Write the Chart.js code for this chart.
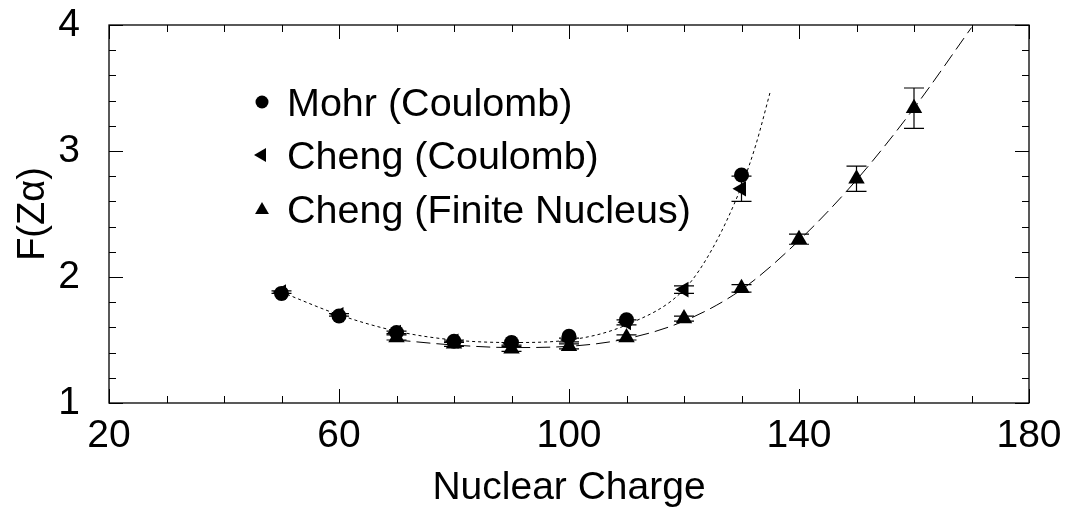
<!DOCTYPE html>
<html>
<head>
<meta charset="utf-8">
<script src="https://cdn.jsdelivr.net/npm/chart.js@4.4.1/dist/chart.umd.min.js"></script>
<style>
  body { margin: 0; background: #fff; }
  #wrap { width: 1068px; height: 512px; }
</style>
</head>
<body>
<div id="wrap"><canvas id="chart" width="1068" height="512"></canvas></div>
<script>
// values
const mohrZ = [50, 60, 70, 80, 90, 100, 110, 130];
const mohrF = [1.87, 1.69, 1.56, 1.49, 1.48, 1.53, 1.66, 2.81];

const chengCoulZ = [50, 60, 70, 80, 90, 100, 110, 120, 130];
const chengCoulF = [1.88, 1.70, 1.56, 1.49, 1.47, 1.50, 1.64, 1.90, 2.70];
const chengCoulErr = [0.01, 0.01, 0.01, 0.01, 0.01, 0.015, 0.02, 0.03, 0.10];

const chengFinZ = [70, 80, 90, 100, 110, 120, 130, 140, 150, 160];
const chengFinF = [1.52, 1.47, 1.43, 1.45, 1.52, 1.67, 1.91, 2.30, 2.78, 3.34];
const chengFinErr = [0.02, 0.02, 0.02, 0.02, 0.02, 0.02, 0.03, 0.04, 0.10, 0.16];

const dotZ = [50, 60, 70, 80, 90, 100, 110, 120, 125, 130, 132.5, 135];
const dotF = [1.88, 1.70, 1.57, 1.50, 1.48, 1.50, 1.62, 1.90, 2.23, 2.72, 3.05, 3.47];
const dashZ = [70, 80, 90, 100, 110, 120, 130, 140, 150, 160, 170];
const dashF = [1.50, 1.46, 1.44, 1.45, 1.51, 1.65, 1.90, 2.29, 2.77, 3.34, 3.98];

const xTicks = [20, 60, 100, 140, 180];
const yTicks = [1, 2, 3, 4];

const legendItems = ["Mohr (Coulomb)", "Cheng (Coulomb)", "Cheng (Finite Nucleus)"];

const FONT = "Arial, 'Liberation Sans', Helvetica, sans-serif";
const pts = (xs, ys) => xs.map((x, i) => ({x: x, y: ys[i]}));

function triPath(ctx, x, y, r, rot) {
    ctx.beginPath();
    for (let k = 0; k < 3; k++) {
        const a = rot + k * 2 * Math.PI / 3;
        const px = x + Math.sin(a) * r, py = y - Math.cos(a) * r;
        if (k === 0) ctx.moveTo(px, py); else ctx.lineTo(px, py);
    }
    ctx.closePath();
    ctx.fill();
}

const errorBars = {
    id: "errorBars",
    afterDatasetsDraw(chart) {
        const {ctx, scales: {x, y}} = chart;
        const sets = [[chengCoulZ, chengCoulF, chengCoulErr], [chengFinZ, chengFinF, chengFinErr]];
        ctx.save();
        ctx.strokeStyle = "#000";
        ctx.lineWidth = 1.2;
        sets.forEach(([zs, fs, es]) => {
            zs.forEach((z, i) => {
                const px = x.getPixelForValue(z);
                const top = y.getPixelForValue(fs[i] + es[i]);
                const bot = y.getPixelForValue(fs[i] - es[i]);
                ctx.beginPath();
                ctx.moveTo(px, top); ctx.lineTo(px, bot);
                ctx.moveTo(px - 10, top); ctx.lineTo(px + 10, top);
                ctx.moveTo(px - 10, bot); ctx.lineTo(px + 10, bot);
                ctx.stroke();
            });
        });
        ctx.restore();
    }
};

const frameAndLegend = {
    id: "frameAndLegend",
    afterDraw(chart) {
        const {ctx, chartArea: a, scales: {x, y}} = chart;
        ctx.save();
        ctx.strokeStyle = "#000";
        ctx.lineWidth = 1.3;
        ctx.strokeRect(a.left, a.top, a.right - a.left, a.bottom - a.top);
        ctx.lineWidth = 1;
        ctx.beginPath();
        for (let v = 20; v <= 180; v += 10) {
            const px = Math.round(x.getPixelForValue(v)) + 0.5;
            const len = xTicks.includes(v) ? 14 : 7;
            ctx.moveTo(px, a.bottom); ctx.lineTo(px, a.bottom - len);
            ctx.moveTo(px, a.top); ctx.lineTo(px, a.top + len);
        }
        for (let k = 0; k <= 15; k++) {
            const v = 1 + k * 0.2;
            const py = Math.round(y.getPixelForValue(v)) + 0.5;
            const len = (k % 5 === 0) ? 14 : 7;
            ctx.moveTo(a.left, py); ctx.lineTo(a.left + len, py);
            ctx.moveTo(a.right, py); ctx.lineTo(a.right - len, py);
        }
        ctx.stroke();

        // legend inside the plot
        ctx.fillStyle = "#000";
        ctx.font = "39.5px " + FONT;
        ctx.textBaseline = "alphabetic";
        const rows = [116, 169, 223];
        legendItems.forEach((txt, i) => {
            const cy = rows[i] - 14;
            if (i === 0) {
                ctx.beginPath(); ctx.arc(262, cy, 6.5, 0, 2 * Math.PI); ctx.fill();
            } else if (i === 1) {
                triPath(ctx, 262, cy, 8, -Math.PI / 2);
            } else {
                triPath(ctx, 262, cy + 1, 8, 0);
            }
            ctx.fillText(txt, 287, rows[i]);
        });
        ctx.restore();
    }
};

new Chart(document.getElementById("chart"), {
    type: "scatter",
    data: {
        datasets: [
            {
                data: pts(dotZ, dotF), showLine: true, pointRadius: 0,
                borderColor: "#000", borderWidth: 1, borderDash: [3, 3],
                cubicInterpolationMode: "monotone"
            },
            {
                data: pts(dashZ, dashF), showLine: true, pointRadius: 0,
                borderColor: "#000", borderWidth: 1, borderDash: [14, 6],
                cubicInterpolationMode: "monotone"
            },
            {
                label: legendItems[0], data: pts(mohrZ, mohrF),
                pointStyle: "circle", pointRadius: 7.5,
                backgroundColor: "#000", borderColor: "#000", borderWidth: 0
            },
            {
                label: legendItems[1], data: pts(chengCoulZ, chengCoulF),
                pointStyle: "triangle", pointRotation: -90, pointRadius: 9,
                backgroundColor: "#000", borderColor: "#000", borderWidth: 0
            },
            {
                label: legendItems[2], data: pts(chengFinZ, chengFinF),
                pointStyle: "triangle", pointRadius: 9.5,
                backgroundColor: "#000", borderColor: "#000", borderWidth: 0
            }
        ]
    },
    options: {
        responsive: false,
        animation: false,
        layout: { padding: { left: 0, top: 25, right: 39, bottom: 0 } },
        plugins: { legend: { display: false }, tooltip: { enabled: false } },
        scales: {
            x: {
                type: "linear", min: 20, max: 180,
                afterBuildTicks: s => { s.ticks = xTicks.map(v => ({value: v})); },
                afterFit: s => { s.height = 109; s.paddingLeft = 0; s.paddingRight = 0; },
                grid: { display: false, drawTicks: false },
                border: { display: false },
                ticks: { color: "#000", padding: 10, maxRotation: 0, font: { family: FONT, size: 39 } },
                title: { display: true, text: "Nuclear Charge", color: "#000", padding: 0, font: { family: FONT, size: 39 } }
            },
            y: {
                type: "linear", min: 1, max: 4,
                afterBuildTicks: s => { s.ticks = yTicks.map(v => ({value: v})); },
                afterFit: s => { s.width = 109; s.paddingTop = 0; s.paddingBottom = 0; },
                grid: { display: false, drawTicks: false },
                border: { display: false },
                ticks: { color: "#000", padding: 29, font: { family: FONT, size: 39 } },
                title: { display: true, text: "F(Zα)", color: "#000", padding: { top: 11, bottom: 0 }, font: { family: FONT, size: 38 } }
            }
        }
    },
    plugins: [errorBars, frameAndLegend]
});
</script>
</body>
</html>
